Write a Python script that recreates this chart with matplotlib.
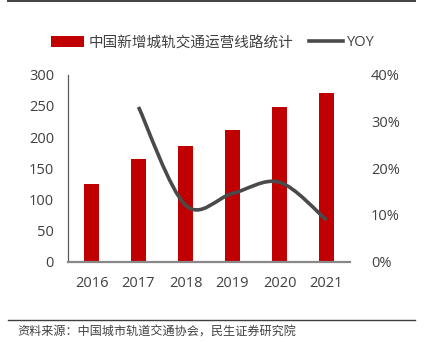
import matplotlib
matplotlib.use("Agg")
import matplotlib.pyplot as plt
from matplotlib.path import Path
from matplotlib.patches import PathPatch
from matplotlib.lines import Line2D
from matplotlib.patches import Patch
import numpy as np

plt.rcParams['font.family'] = ['Open Sans', 'Noto Sans CJK SC', 'DejaVu Sans']

years = ['2016', '2017', '2018', '2019', '2020', '2021']
new_lines = [124, 165, 185, 212, 248, 270]
yoy_years = ['2017', '2018', '2019', '2020', '2021']
yoy = [33.1, 12.1, 14.6, 17.0, 8.9]

bar_label = '中国新增城轨交通运营线路统计'
line_label = 'YOY'
source = '资料来源：中国城市轨道交通协会，民生证券研究院'

RED = '#C00000'
GRAY_LINE = '#4A4A4A'
TEXT = '#404040'

W, H = 424, 342
fig = plt.figure(figsize=(W / 100, H / 100), dpi=100)
ax = fig.add_axes([68 / W, (H - 261.7) / H, 282 / W, 187 / H])

x = np.arange(len(years))
ax.bar(x, new_lines, width=0.34, color=RED, zorder=2)
ax.set_xlim(-0.5, len(years) - 0.5)
ax.set_ylim(0, 300)
ax.set_yticks(range(0, 301, 50))
ax.set_xticks(x)
ax.set_xticklabels(years)

for s in ['top', 'right']:
    ax.spines[s].set_visible(False)
ax.spines['left'].set_color('#595959')
ax.spines['left'].set_linewidth(0.9)
ax.spines['bottom'].set_color('#888888')
ax.spines['bottom'].set_linewidth(1.6)
ax.tick_params(axis='both', length=0, labelsize=10.5, colors=TEXT)
ax.tick_params(axis='y', pad=10)
ax.tick_params(axis='x', pad=10)

ax2 = ax.twinx()
ax2.set_ylim(0, 40)
ax2.set_yticks(range(0, 41, 10))
ax2.set_yticklabels([f'{v}%' for v in range(0, 41, 10)])
for s in ax2.spines.values():
    s.set_visible(False)
ax2.tick_params(axis='y', length=0, labelsize=10.5, colors=TEXT, pad=15)

# smoothed YOY curve (cubic Bezier segments, Catmull-Rom style tangents)
xi = [years.index(y) for y in yoy_years]
pts = np.column_stack([xi, yoy]).astype(float)
n = len(pts)
verts = [tuple(pts[0])]
codes = [Path.MOVETO]
for i in range(n - 1):
    p0 = pts[max(i - 1, 0)]
    p1 = pts[i]
    p2 = pts[i + 1]
    p3 = pts[min(i + 2, n - 1)]
    c1 = p1 + (p2 - p0) / 6.0
    c2 = p2 - (p3 - p1) / 6.0
    verts += [tuple(c1), tuple(c2), tuple(p2)]
    codes += [Path.CURVE4] * 3
ax2.add_patch(PathPatch(Path(verts, codes), facecolor='none',
                        edgecolor=GRAY_LINE, lw=2.6, capstyle='butt', zorder=3))

handles = [Patch(facecolor=RED, edgecolor='none'),
           Line2D([0], [0], color=GRAY_LINE, lw=2.6)]
fig.legend(handles, [bar_label, line_label], loc='center',
           bbox_to_anchor=(213 / W, (H - 43) / H), ncol=2, frameon=False,
           fontsize=10.5, labelcolor=TEXT, handlelength=2.3, handleheight=0.7,
           handletextpad=0.3, columnspacing=1.1)

# frame rules
fig.add_artist(Line2D([8 / W, 415 / W], [1 - 0.8 / H, 1 - 0.8 / H],
                      color='#404040', lw=1.4, transform=fig.transFigure))
fig.add_artist(Line2D([8 / W, 415 / W], [(H - 320) / H, (H - 320) / H],
                      color='#404040', lw=1.0, transform=fig.transFigure))
fig.text(17 / W, (H - 332) / H, source, fontsize=8.7, color=TEXT,
         va='center', ha='left')

fig.savefig('out.png', dpi=100)
